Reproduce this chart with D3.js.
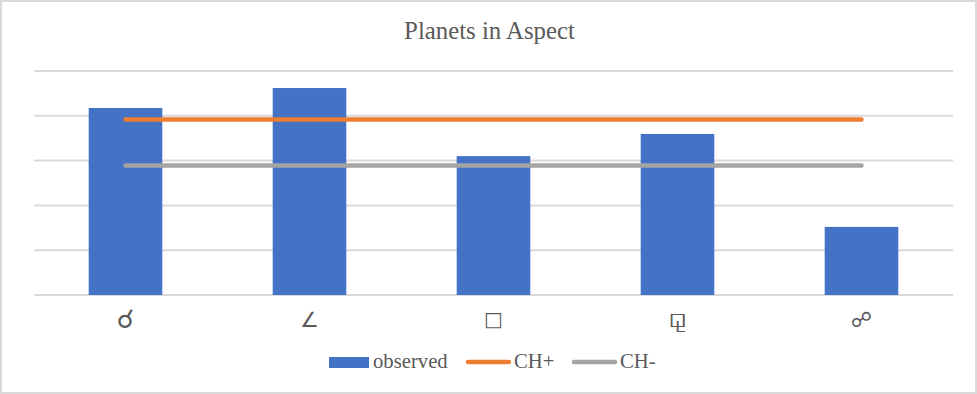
<!DOCTYPE html>
<html>
<head>
<meta charset="utf-8">
<script src="https://cdn.jsdelivr.net/npm/d3@7"></script>
<style>
  html, body { margin: 0; padding: 0; background: #fff; }
  svg { display: block; }
  text { font-family: "Liberation Serif", serif; fill: #595959; }
</style>
</head>
<body>
<div id="chart"></div>
<script>
const aspects = ["☌", "∠", "□", "⚼", "☍"];
const observed = [83.5, 92.4, 62, 71.9, 30.4];
const chPlus = [78.4, 78.4, 78.4, 78.4, 78.4];
const chMinus = [57.8, 57.8, 57.8, 57.8, 57.8];
const gridValues = [0, 20, 40, 60, 80, 100];

const width = 977, height = 394;

const svg = d3.select("#chart").append("svg")
  .attr("width", width)
  .attr("height", height);

// Chart frame
svg.append("rect")
  .attr("x", 1).attr("y", 1)
  .attr("width", width - 2).attr("height", height - 2)
  .attr("fill", "#fff")
  .attr("stroke", "#d9d9d9")
  .attr("stroke-width", 2);

svg.append("text")
  .attr("x", 489.5).attr("y", 39)
  .attr("text-anchor", "middle")
  .style("font-size", "24.8px")
  .text("Planets in Aspect");

// gap width 150%, same as the original chart
const x = d3.scaleBand().domain(aspects).range([33.5, 953.5]).paddingInner(0.6).paddingOuter(0.3);
const y = d3.scaleLinear().domain([0, 100]).range([295, 71]);

// Gridlines
svg.append("g")
  .selectAll("line")
  .data(gridValues)
  .join("line")
  .attr("x1", 34).attr("x2", 953)
  .attr("y1", d => y(d)).attr("y2", d => y(d))
  .attr("stroke", "#d9d9d9")
  .attr("stroke-width", 2);

// Bars
svg.append("g")
  .selectAll("rect")
  .data(observed)
  .join("rect")
  .attr("x", (d, i) => x(aspects[i]))
  .attr("y", d => y(d))
  .attr("width", x.bandwidth())
  .attr("height", d => y(0) - y(d))
  .attr("fill", "#4472c4");

const line = d3.line()
  .x((d, i) => x(aspects[i]) + x.bandwidth() / 2)
  .y(d => y(d));

[[chPlus, "#ed7d31"], [chMinus, "#a5a5a5"]].forEach(([values, color]) => {
  svg.append("path")
    .attr("d", line(values))
    .attr("fill", "none")
    .attr("stroke", color)
    .attr("stroke-width", 4.5)
    .attr("stroke-linecap", "round");
});

// Category labels, the symbol glyphs come out at uneven sizes in DejaVu
const labelSize = { "☌": 26, "∠": 21, "□": 20, "⚼": 28, "☍": 21 };
const labelBase = { "☌": 328, "∠": 327, "□": 326, "⚼": 327, "☍": 327 };
svg.append("g")
  .selectAll("text")
  .data(aspects)
  .join("text")
  .attr("x", d => x(d) + x.bandwidth() / 2)
  .attr("y", d => labelBase[d])
  .attr("text-anchor", "middle")
  .style("font-family", '"DejaVu Sans", sans-serif')
  .style("font-size", d => labelSize[d] + "px")
  .text(d => d);

// Legend
const legend = svg.append("g");
legend.append("rect")
  .attr("x", 329).attr("y", 357)
  .attr("width", 40).attr("height", 11)
  .attr("fill", "#4472c4");
legend.append("text").attr("x", 373).attr("y", 368).style("font-size", "20.7px").text("observed");

legend.append("line")
  .attr("x1", 468).attr("x2", 509).attr("y1", 362).attr("y2", 362)
  .attr("stroke", "#ed7d31").attr("stroke-width", 4.5).attr("stroke-linecap", "round");
legend.append("text").attr("x", 514).attr("y", 368).style("font-size", "20.7px").text("CH+");

legend.append("line")
  .attr("x1", 574).attr("x2", 615).attr("y1", 362).attr("y2", 362)
  .attr("stroke", "#a5a5a5").attr("stroke-width", 4.5).attr("stroke-linecap", "round");
legend.append("text").attr("x", 620).attr("y", 368).style("font-size", "20.7px").text("CH-");
</script>
</body>
</html>
